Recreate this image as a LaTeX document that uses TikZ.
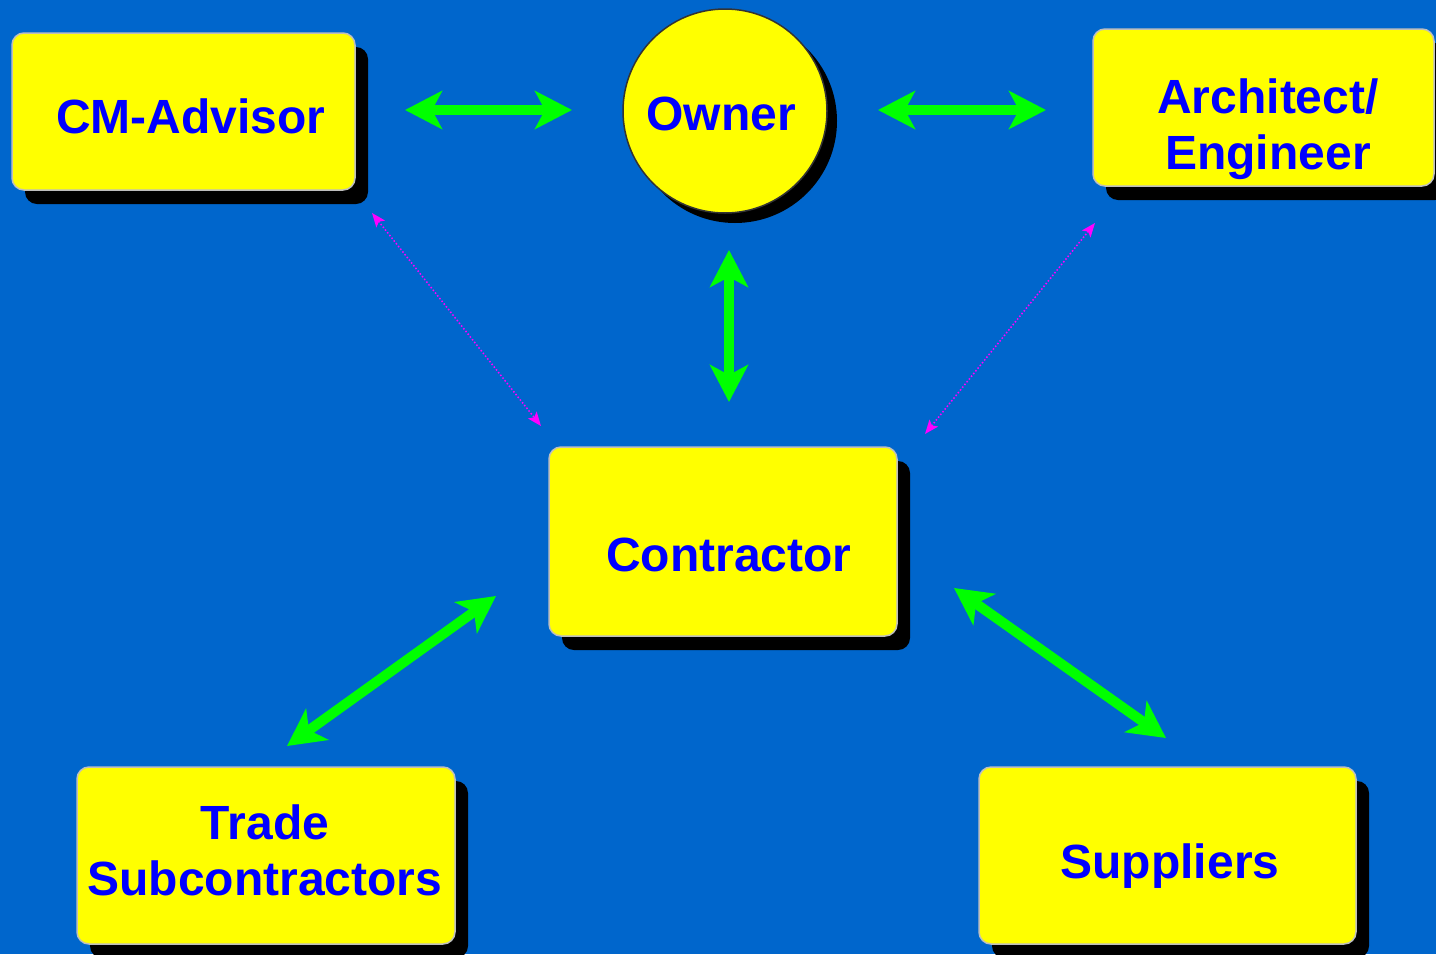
\documentclass[tikz,border=0pt]{standalone}
\usepackage{fontspec}
\setmainfont{Liberation Sans}
\usetikzlibrary{arrows.meta,shadows}
\definecolor{bgblue}{RGB}{0,102,204}
\definecolor{boxyellow}{RGB}{255,255,0}
\definecolor{txtblue}{RGB}{0,0,255}
\definecolor{arrgreen}{RGB}{0,255,0}
\definecolor{dotpink}{RGB}{255,0,255}
\definecolor{boxedge}{RGB}{190,190,190}
\tikzset{
  boxnode/.style={rectangle, rounded corners=12pt, fill=boxyellow, draw=boxedge, line width=1.5pt, inner sep=0pt,
    drop shadow={shadow xshift=13pt, shadow yshift=-14pt, fill=black, opacity=1}},
  ownernode/.style={circle, fill=boxyellow, draw=black!80, line width=1.5pt, inner sep=0pt, minimum size=204pt,
    drop shadow={shadow xshift=10pt, shadow yshift=-10pt, fill=black, opacity=1}},
  label text/.style={font=\bfseries\fontsize{48}{56}\selectfont, text=txtblue, align=center, inner sep=0pt},
  bigarrow/.style={arrgreen, line width=10pt,
    {Stealth[length=37pt,width=38pt,inset=10pt]}-{Stealth[length=37pt,width=38pt,inset=10pt]}},
  dotarrow/.style={dotpink, line width=1.5pt, dash pattern=on 1.5pt off 2pt,
    {Stealth[length=14pt,width=11pt,inset=3pt]}-{Stealth[length=14pt,width=11pt,inset=3pt]}}
}
\begin{document}
\begin{tikzpicture}[x=1pt,y=-1pt]
\fill[bgblue] (0,0) rectangle (1436,954);
\useasboundingbox (0,0) rectangle (1436,954);

% boxes
\node[boxnode, minimum width=343pt, minimum height=157pt] (cm) at (183.5,111.5) {};
\node[ownernode] (owner) at (725,111) {};
\node[boxnode, minimum width=341pt, minimum height=157pt] (arch) at (1263.5,107.5) {};
\node[boxnode, minimum width=348pt, minimum height=189pt] (contr) at (723,541.5) {};
\node[boxnode, minimum width=378pt, minimum height=177pt] (trade) at (266,855.5) {};
\node[boxnode, minimum width=377pt, minimum height=177pt] (supp) at (1167.5,855.5) {};

% texts
\node[label text] (tcm) at (191,116) {CM-Advisor};
\node[label text] (towner) at (721,114) {Owner};
\node[label text] (tarch) at (1268,129) {Architect/\\Engineer};
\node[label text] (tcontr) at (729,555) {Contractor};
\node[label text] (ttrade) at (265,850) {Trade\\Subcontractors};
\node[label text] (tsupp) at (1170,866) {Suppliers};

% arrow endpoints
\coordinate (a1) at (405,110);
\coordinate (a2) at (572,110);
\coordinate (b1) at (878,110);
\coordinate (b2) at (1046,110);
\coordinate (c1) at (729,250);
\coordinate (c2) at (729,402);
\coordinate (d1) at (287,746);
\coordinate (d2) at (496,596);
\coordinate (e1) at (954,588);
\coordinate (e2) at (1166,738);
\coordinate (f1) at (372,213);
\coordinate (f2) at (541,426);
\coordinate (g1) at (1095,223);
\coordinate (g2) at (925,434);

\draw[bigarrow] (a1) -- (a2);
\draw[bigarrow] (b1) -- (b2);
\draw[bigarrow] (c1) -- (c2);
\draw[bigarrow] (d1) -- (d2);
\draw[bigarrow] (e1) -- (e2);
\draw[dotarrow] (f1) -- (f2);
\draw[dotarrow] (g1) -- (g2);
\end{tikzpicture}
\end{document}
